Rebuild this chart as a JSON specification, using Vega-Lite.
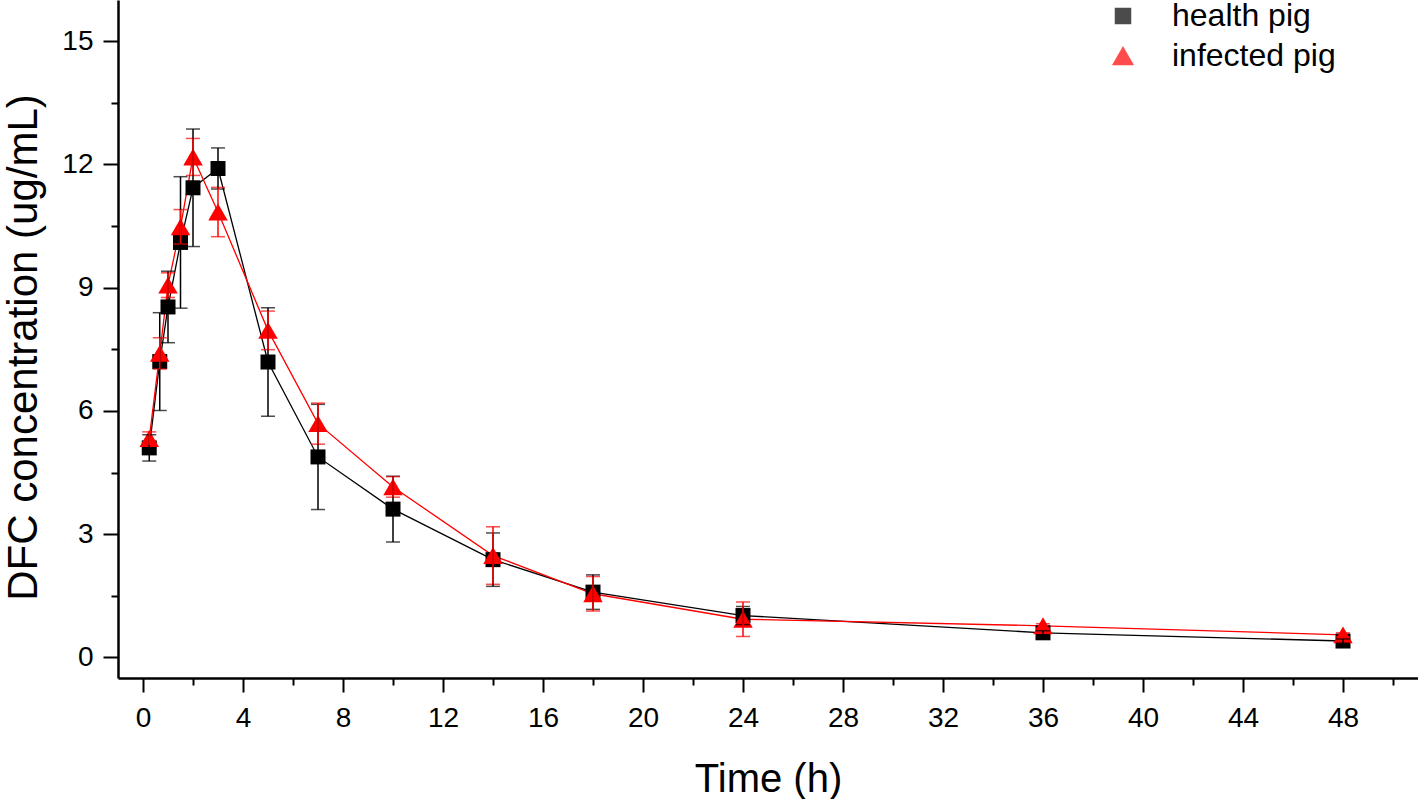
{
  "$schema": "https://vega.github.io/schema/vega-lite/v6.json",
  "width": 1300,
  "height": 678,
  "autosize": {"type": "none"},
  "padding": {"left": 118, "top": 0, "right": 0, "bottom": 121},
  "background": "white",
  "config": {
    "view": {"stroke": null},
    "font": "Liberation Sans",
    "axis": {
      "domainColor": "black",
      "domainWidth": 2.5,
      "tickColor": "black",
      "tickWidth": 2,
      "grid": false,
      "labelFont": "Liberation Sans",
      "labelFontSize": 28,
      "labelColor": "black",
      "titleFont": "Liberation Sans",
      "titleFontSize": 40,
      "titleFontWeight": "normal",
      "titleColor": "black"
    }
  },
  "data": {
    "values": [
      {"series": "health pig", "time": 0.25, "conc": 5.1, "sd": 0.32},
      {"series": "health pig", "time": 0.67, "conc": 7.2, "sd": 1.19},
      {"series": "health pig", "time": 1, "conc": 8.53, "sd": 0.87},
      {"series": "health pig", "time": 1.5, "conc": 10.1, "sd": 1.6},
      {"series": "health pig", "time": 2, "conc": 11.43, "sd": 1.43},
      {"series": "health pig", "time": 3, "conc": 11.9, "sd": 0.5},
      {"series": "health pig", "time": 5, "conc": 7.19, "sd": 1.32},
      {"series": "health pig", "time": 7, "conc": 4.88, "sd": 1.28},
      {"series": "health pig", "time": 10, "conc": 3.61, "sd": 0.8},
      {"series": "health pig", "time": 14, "conc": 2.38, "sd": 0.65},
      {"series": "health pig", "time": 18, "conc": 1.59, "sd": 0.42},
      {"series": "health pig", "time": 24, "conc": 1.02, "sd": 0.22},
      {"series": "health pig", "time": 36, "conc": 0.6, "sd": 0.05},
      {"series": "health pig", "time": 48, "conc": 0.4, "sd": 0.05},
      {"series": "infected pig", "time": 0.25, "conc": 5.33, "sd": 0.16},
      {"series": "infected pig", "time": 0.67, "conc": 7.4, "sd": 0.38},
      {"series": "infected pig", "time": 1, "conc": 9.06, "sd": 0.3},
      {"series": "infected pig", "time": 1.5, "conc": 10.48, "sd": 0.42},
      {"series": "infected pig", "time": 2, "conc": 12.18, "sd": 0.45},
      {"series": "infected pig", "time": 3, "conc": 10.84, "sd": 0.6},
      {"series": "infected pig", "time": 5, "conc": 7.96, "sd": 0.47},
      {"series": "infected pig", "time": 7, "conc": 5.69, "sd": 0.5},
      {"series": "infected pig", "time": 10, "conc": 4.15, "sd": 0.25},
      {"series": "infected pig", "time": 14, "conc": 2.48, "sd": 0.7},
      {"series": "infected pig", "time": 18, "conc": 1.55, "sd": 0.42},
      {"series": "infected pig", "time": 24, "conc": 0.93, "sd": 0.42},
      {"series": "infected pig", "time": 36, "conc": 0.77, "sd": 0.05},
      {"series": "infected pig", "time": 48, "conc": 0.55, "sd": 0.05}
    ]
  },
  "encoding": {
    "x": {
      "field": "time",
      "type": "quantitative",
      "title": "Time (h)",
      "scale": {"domain": [-1, 51], "nice": false, "zero": false},
      "axis": {
        "values": [0, 2, 4, 6, 8, 10, 12, 14, 16, 18, 20, 22, 24, 26, 28, 30, 32, 34, 36, 38, 40, 42, 44, 46, 48, 50],
        "labelExpr": "datum.value % 4 === 0 ? datum.label : ''",
        "tickSize": {"condition": {"test": "datum.value % 4 === 0", "value": 14}, "value": 7},
        "labelPadding": 12,
        "titlePadding": 27,
        "labelFlush": false,
        "labelOverlap": false
      }
    },
    "y": {
      "field": "conc",
      "type": "quantitative",
      "title": "DFC concentration (ug/mL)",
      "scale": {"domain": [-0.5, 16], "nice": false, "zero": false},
      "axis": {
        "values": [0, 1.5, 3, 4.5, 6, 7.5, 9, 10.5, 12, 13.5, 15],
        "labelExpr": "datum.value % 3 === 0 ? datum.label : ''",
        "tickSize": {"condition": {"test": "datum.value % 3 === 0", "value": 15}, "value": 7},
        "labelPadding": 10,
        "titlePadding": 16,
        "titleFontSize": 42,
        "titleY": 347,
        "labelFlush": false,
        "labelOverlap": false
      }
    },
    "color": {
      "field": "series",
      "type": "nominal",
      "scale": {"domain": ["health pig", "infected pig"], "range": ["#000000", "#ff0000"]}
    }
  },
  "layer": [
    {
      "mark": {"type": "line", "strokeWidth": 1.3}
    },
    {
      "mark": {"type": "point", "filled": true, "opacity": 1},
      "encoding": {
        "shape": {
          "field": "series",
          "type": "nominal",
          "scale": {"domain": ["health pig", "infected pig"], "range": ["square", "triangle-up"]}
        },
        "size": {
          "field": "series",
          "type": "nominal",
          "scale": {"domain": ["health pig", "infected pig"], "range": [225, 380]},
          "legend": null
        },
        "color": {
          "field": "series",
          "type": "nominal",
          "scale": {"domain": ["health pig", "infected pig"], "range": ["#000000", "#ff0000"]},
          "legend": {
            "title": null,
            "orient": "none",
            "legendX": 989,
            "legendY": 0,
            "padding": 0,
            "labelFont": "Liberation Sans",
            "labelFontSize": 32,
            "labelColor": "black",
            "labelLimit": 0,
            "labelOffset": 33,
            "rowPadding": 8,
            "symbolSize": 400,
            "symbolOpacity": 1
          }
        }
      }
    },
    {
      "mark": {"type": "errorbar", "thickness": 1.5, "ticks": {"size": 14, "thickness": 1.5}},
      "encoding": {
        "yError": {"field": "sd"}
      }
    }
  ]
}
